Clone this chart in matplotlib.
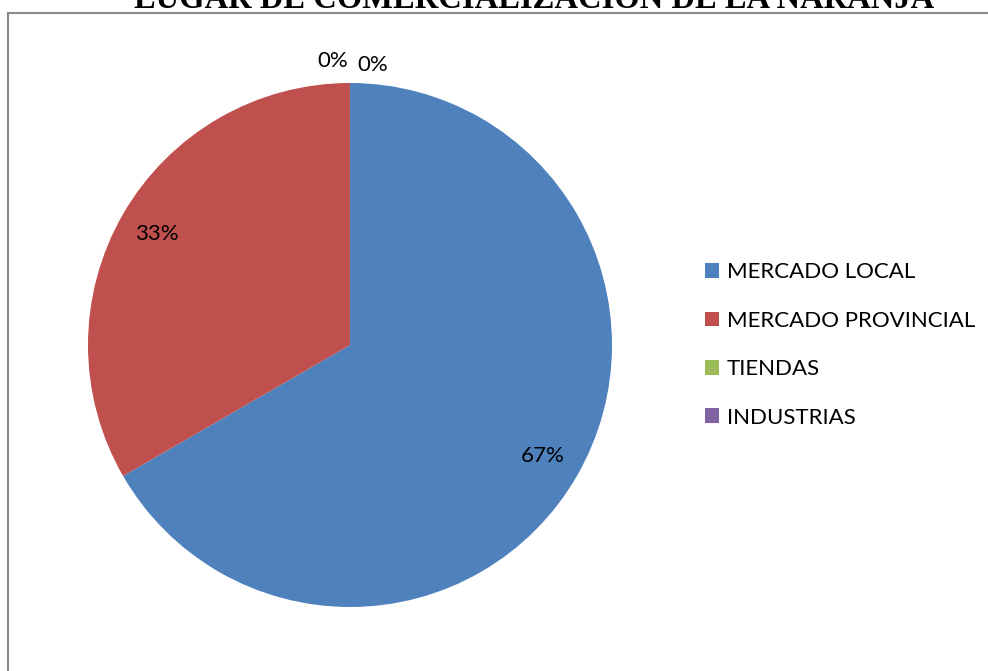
import matplotlib
matplotlib.use("Agg")
import matplotlib.pyplot as plt
from matplotlib.patches import Patch
from matplotlib.lines import Line2D

# Data
categories = ["MERCADO LOCAL", "MERCADO PROVINCIAL", "TIENDAS", "INDUSTRIAS"]
percentages = [66.67, 33.33, 0, 0]
colors = ["#4F81BD", "#C0504D", "#9BBB59", "#8064A2"]
title = "LUGAR DE COMERCIALIZACIÓN DE LA NARANJA"

W, H = 988, 671
fig = plt.figure(figsize=(W / 100, H / 100), dpi=100)
fig.patch.set_facecolor("white")

# Chart-area frame (left and top edges visible)
fig.add_artist(Line2D([8 / W, 8 / W], [0, (H - 13) / H], transform=fig.transFigure,
                      color="#8a8a8a", lw=1.5))
fig.add_artist(Line2D([8 / W, 1.0], [(H - 13) / H, (H - 13) / H], transform=fig.transFigure,
                      color="#8a8a8a", lw=1.5))

# Pie axes: centre (350, 345) px, radius 262 px
cx, cy, r = 350, 345, 262
ax = fig.add_axes([(cx - r) / W, (H - cy - r) / H, 2 * r / W, 2 * r / H])

wedges, texts, autotexts = ax.pie(
    percentages, colors=colors, startangle=90, counterclock=False,
    autopct=lambda p: f"{p:.0f}%", pctdistance=0.85, radius=1.0,
    wedgeprops=dict(linewidth=0),
    textprops=dict(fontsize=16, family="Lato", color="black"),
)
ax.set_xlim(-1, 1)
ax.set_ylim(-1, 1)
ax.set_aspect("equal")
ax.axis("off")

# Zero-valued slices: labels sit just outside the top of the pie
autotexts[2].set_position((-0.065, 1.085))
autotexts[3].set_position((0.088, 1.07))
for t in autotexts[2:]:
    t.set_clip_on(False)

# Legend
handles = [Patch(facecolor=c, edgecolor="none") for c in colors]
fig.legend(handles, categories, loc="center left",
           bbox_to_anchor=(696 / W, (H - 345) / H),
           frameon=False, prop=dict(family="Lato", size=16),
           handlelength=0.65, handleheight=0.65, handletextpad=0.35,
           labelspacing=1.28, borderaxespad=0)

# Title (partly above the top edge of the image)
fig.text(534 / W, (H - 8) / H, title, ha="center", va="baseline",
         fontsize=23.5, fontweight="bold", family="Liberation Serif")

fig.savefig("out.png", dpi=100, facecolor="white")
